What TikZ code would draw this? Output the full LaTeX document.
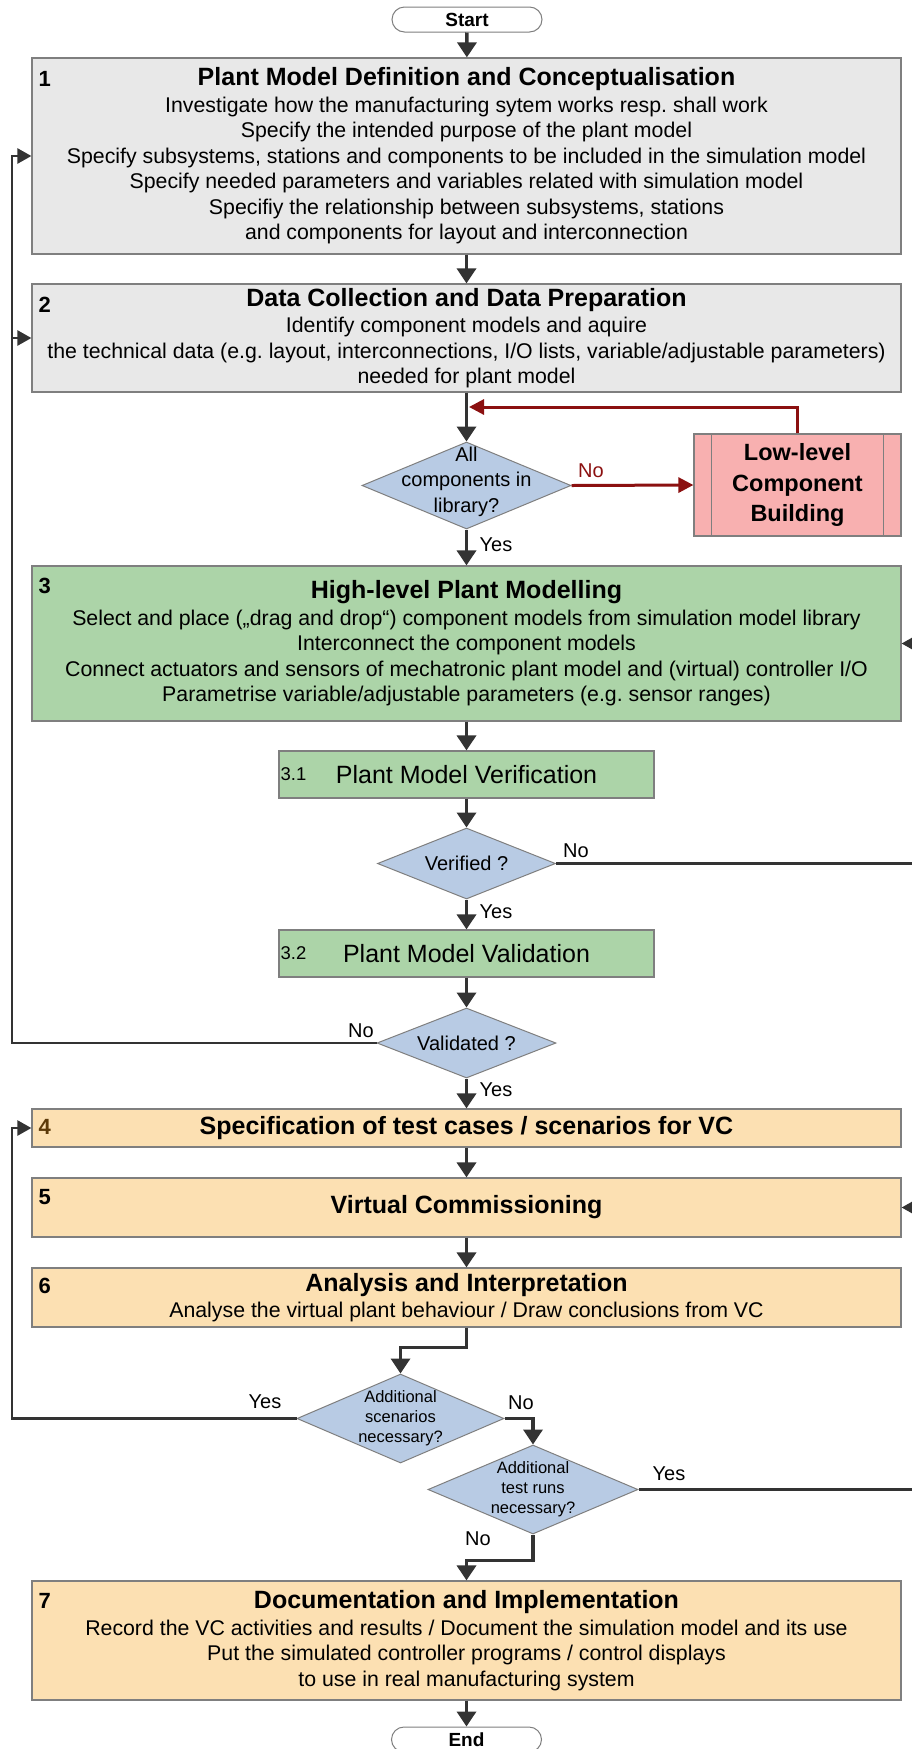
\documentclass[tikz,border=0pt]{standalone}
\usepackage{fontspec}
\setmainfont{Liberation Sans}
\usetikzlibrary{arrows.meta,shapes.geometric,calc}
\definecolor{vcgray}{HTML}{E8E8E8}
\definecolor{vcgreen}{HTML}{ACD4A8}
\definecolor{vcorange}{HTML}{FCE0B2}
\definecolor{vcblue}{HTML}{B8CBE4}
\definecolor{vcpink}{HTML}{F8B0B0}
\definecolor{vcred}{HTML}{8B1010}
\definecolor{vcline}{HTML}{333333}
\definecolor{vcframe}{HTML}{7F7F7F}
\definecolor{vcbrown}{HTML}{5C3A0A}
\newcommand{\vctitle}[1]{{\fontsize{25}{28}\selectfont\bfseries #1}}
\frenchspacing

\begin{document}
\begin{tikzpicture}[x=1pt, y=-1pt,
  stage/.style={draw=vcframe, line width=1.2pt, minimum width=869, inner sep=4pt, align=center, font=\fontsize{21.3}{25.5}\selectfont},
  substage/.style={draw=vcframe, line width=1.2pt, fill=vcgreen, minimum width=375, minimum height=47, inner sep=0pt, font=\fontsize{25}{28}\selectfont},
  num/.style={anchor=west, inner sep=0pt, font=\fontsize{22}{22}\selectfont\bfseries},
  subnum/.style={anchor=west, inner sep=0pt, font=\fontsize{18.5}{18.5}\selectfont},
  term/.style={draw=vcframe, line width=1pt, fill=white, rounded corners=12.5pt, minimum width=150, minimum height=25, inner sep=0pt, font=\fontsize{19}{19}\selectfont\bfseries},
  dec/.style={diamond, draw=vcframe, line width=1pt, fill=vcblue, inner sep=0pt},
  dectext/.style={align=center, inner sep=0pt, font=\fontsize{20}{25.5}\selectfont},
  smalldectext/.style={align=center, inner sep=0pt, font=\fontsize{16.5}{20}\selectfont},
  lbl/.style={inner sep=0pt, font=\fontsize{20}{20}\selectfont},
  flow/.style={draw=vcline, line width=3.5pt, -{Triangle[width=19pt,length=15pt]}},
  backflow/.style={draw=vcline, line width=2.5pt, -{Triangle[width=15pt,length=14pt]}},
  redflow/.style={draw=vcred, line width=3pt, -{Triangle[width=15pt,length=15pt]}}]
  \useasboundingbox (0,0) rectangle (911,1749);

  \node[term] (start) at (467,19.5) {Start};

  \node[stage, fill=vcgray, minimum height=196] (b1) at (466.5,156)
    {\vctitle{Plant Model Definition and Conceptualisation}\\[1pt]
     Investigate how the manufacturing sytem works resp. shall work\\
     Specify the intended purpose of the plant model\\
     Specify subsystems, stations and components to be included in the simulation model\\
     Specify needed parameters and variables related with simulation model\\
     Specifiy the relationship between subsystems, stations\\
     and components for layout and interconnection};
  \node[num] (n1) at ([shift={(7,22)}]b1.north west) {1};

  \node[stage, fill=vcgray, minimum height=108] (b2) at (466.5,338)
    {\vctitle{Data Collection and Data Preparation}\\[1pt]
     Identify component models and aquire\\
     the technical data (e.g. layout, interconnections, I/O lists, variable/adjustable parameters)\\
     needed for plant model};
  \node[num] (n2) at ([shift={(7,21)}]b2.north west) {2};

  \node[dec, minimum width=209, minimum height=87] (d1) at (466.5,485.5) {};
  \node[dectext] (t1) at ([yshift=4pt]d1.center) {All\\components in\\library?};

  \node[draw=vcframe, line width=1.2pt, fill=vcpink, minimum width=207, minimum height=102, align=center,
    font=\fontsize{23.5}{30.5}\selectfont\bfseries] (ll) at (797.5,485) {Low-level\\Component\\Building};
  \draw[vcframe, line width=1.2pt] ([xshift=18pt]ll.north west) -- ([xshift=18pt]ll.south west);
  \draw[vcframe, line width=1.2pt] ([xshift=-18pt]ll.north east) -- ([xshift=-18pt]ll.south east);

  \node[stage, fill=vcgreen, minimum height=155] (b3) at (466.5,643.5)
    {\vctitle{High-level Plant Modelling}\\[1pt]
     Select and place („drag and drop“) component models from simulation model library\\
     Interconnect the component models\\
     Connect actuators and sensors of mechatronic plant model and (virtual) controller I/O\\
     Parametrise variable/adjustable parameters (e.g. sensor ranges)};
  \node[num] (n3) at ([shift={(7,21)}]b3.north west) {3};

  \node[substage] (b31) at (466.5,774.5) {Plant Model Verification};
  \node[subnum] (n31) at ([xshift=2pt]b31.west) {3.1};
  \node[dec, minimum width=178, minimum height=71] (d2) at (466.5,863.5) {};
  \node[dectext] (t2) at (d2.center) {Verified ?};

  \node[substage] (b32) at (466.5,953.5) {Plant Model Validation};
  \node[subnum] (n32) at ([xshift=2pt]b32.west) {3.2};
  \node[dec, minimum width=179, minimum height=70] (d3) at (466.5,1043) {};
  \node[dectext] (t3) at (d3.center) {Validated ?};

  \node[stage, fill=vcorange, minimum height=38] (b4) at (466.5,1128)
    {\vctitle{Specification of test cases / scenarios for VC}};
  \node[num, text=vcbrown] (n4) at ([shift={(7,19)}]b4.north west) {4};

  \node[stage, fill=vcorange, minimum height=59] (b5) at (466.5,1207.5)
    {\vctitle{Virtual Commissioning}};
  \node[num] (n5) at ([shift={(7,20)}]b5.north west) {5};

  \node[stage, fill=vcorange, minimum height=59] (b6) at (466.5,1297.5)
    {\vctitle{Analysis and Interpretation}\\
     Analyse the virtual plant behaviour / Draw conclusions from VC};
  \node[num] (n6) at ([shift={(7,19)}]b6.north west) {6};

  \node[dec, minimum width=207, minimum height=89] (d4) at (400.5,1418.5) {};
  \node[smalldectext] (t4) at (d4.center) {Additional\\scenarios\\necessary?};
  \node[dec, minimum width=210, minimum height=89] (d5) at (533,1489.5) {};
  \node[smalldectext] (t5) at (d5.center) {Additional\\test runs\\necessary?};

  \node[stage, fill=vcorange, minimum height=119] (b7) at (466.5,1640.5)
    {\vctitle{Documentation and Implementation}\\[1pt]
     Record the VC activities and results / Document the simulation model and its use\\
     Put the simulated controller programs / control displays\\
     to use in real manufacturing system};
  \node[num] (n7) at ([shift={(7,21)}]b7.north west) {7};

  \node[term] (end) at (466.5,1739.5) {End};

  \coordinate (lx) at (12,0);
  \coordinate (rx) at (925,0);
  \coordinate (j1) at (469,407);

  \draw[flow] (start) -- (b1);
  \draw[flow] (b1) -- (b2);
  \draw[flow] (b2) -- (d1);
  \draw[redflow] (d1.east) -- (ll.west);
  \draw[redflow] (ll.north) |- (j1);
  \draw[flow] (d1.south) -- (b3.north);
  \draw[flow] (b3.south) -- (b31.north);
  \draw[flow] (b31.south) -- (d2.north);
  \draw[flow] (d2.south) -- (b32.north);
  \draw[flow] (b32.south) -- (d3.north);
  \draw[flow] (d3.south) -- (b4.north);
  \draw[flow] (b4) -- (b5);
  \draw[flow] (b5) -- (b6);
  \draw[flow] (b6.south) -- ++(0,20) -| (d4.north);
  \draw[flow] (d4.east) -| (d5.north);
  \draw[flow] (d5.south) -- ++(0,26) -| (b7.north);
  \draw[flow] (b7) -- (end);

  \draw[backflow] (d2.east) -| (rx |- b3.east) -- (b3.east);
  \draw[backflow] (d3.west) -| (lx |- b1.west) -- (b1.west);
  \draw[backflow] (lx |- b2.west) -- (b2.west);
  \draw[backflow] (d4.west) -| (lx |- b4.west) -- (b4.west);
  \draw[backflow] (d5.east) -| (rx |- b5.east) -- (b5.east);

  \node[lbl, text=vcred] (l1) at (591,471) {No};
  \node[lbl] (l2) at (496,545) {Yes};
  \node[lbl] (l3) at (576,851) {No};
  \node[lbl] (l4) at (496,912) {Yes};
  \node[lbl] (l5) at (361,1031) {No};
  \node[lbl] (l6) at (496,1090) {Yes};
  \node[lbl] (l7) at (265,1402) {Yes};
  \node[lbl] (l8) at (521,1403) {No};
  \node[lbl] (l9) at (669,1474) {Yes};
  \node[lbl] (l10) at (478,1539) {No};
\end{tikzpicture}
\end{document}
